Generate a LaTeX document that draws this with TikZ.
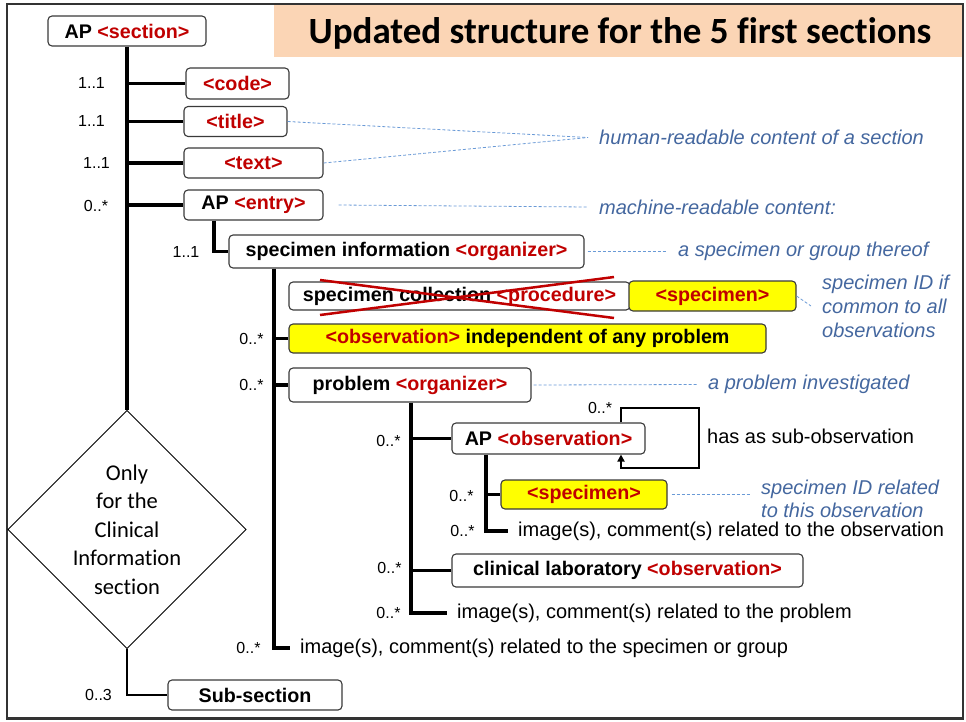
\documentclass[tikz,border=0pt]{standalone}
\usepackage{fontspec}
\setmainfont{Liberation Sans}
\newfontfamily\calibri[Ligatures=NoCommon]{Carlito}
\usetikzlibrary{shapes.geometric,arrows.meta}
\definecolor{xred}{HTML}{C00000}
\definecolor{noteblue}{HTML}{44679F}
\definecolor{dashblue}{HTML}{6A9AD6}
\definecolor{yel}{HTML}{FFFF00}
\definecolor{peach}{HTML}{FBD5B5}
\definecolor{boxgray}{HTML}{3A3A3A}
\definecolor{framegray}{HTML}{333333}
\newcommand{\rt}[1]{\textcolor{xred}{#1}}
\tikzset{
  box/.style={draw=boxgray, line width=1.1pt, rounded corners=4pt, fill=white, inner sep=0pt,
    font=\fontsize{19.7}{22}\selectfont\bfseries, align=center},
  ybox/.style={box, fill=yel},
  conn/.style={line width=3.2pt, line join=miter},
  lab/.style={font=\fontsize{16}{18}\selectfont, inner sep=0pt},
  note/.style={font=\fontsize{20}{24}\selectfont\itshape, text=noteblue, inner ysep=0pt,
    inner xsep=11pt, anchor=west, align=left},
  dsh/.style={draw=dashblue, line width=0.8pt, dash pattern=on 3pt off 2pt},
  plaintext/.style={font=\fontsize{20}{24}\selectfont, anchor=west, inner ysep=0pt, inner xsep=10pt}
}
\begin{document}
\begin{tikzpicture}[x=1pt,y=-1pt]
\useasboundingbox (0,0) rectangle (966,721);
% frame and title
\fill[peach] (274,5.3) rectangle (961.8,56.5);
\draw[framegray, line width=2.4pt] (6.7,4.2) rectangle (962.8,718.3);
\node[font=\calibri\bfseries\fontsize{37}{40}\selectfont, anchor=base, inner sep=0pt] (ttl) at (620,43.5) {Updated structure for the 5 first sections};

% boxes
\node[box, minimum width=158, minimum height=30] (sec) at (127,31) {AP \rt{<section>}};
\node[box, minimum width=103, minimum height=31] (code) at (237.5,83.5) {\rt{<code>}};
\node[box, minimum width=103, minimum height=30] (title) at (235.5,121.5) {\rt{<title>}};
\node[box, minimum width=139, minimum height=30] (text) at (253.5,163) {\rt{<text>}};
\node[box, minimum width=139, minimum height=30] (entry) at (253.5,205) {AP \rt{<entry>}};
\node[box, minimum width=355, minimum height=33] (specinfo) at (406.5,251.5) {specimen information \rt{<organizer>}};
\node[box, minimum width=341, minimum height=28] (speccoll) at (459.5,296) {specimen collection \rt{<procedure>}};
\draw[xred, line width=2.5pt] (320,280) -- (614,318);
\draw[xred, line width=2.5pt] (320,315) -- (614,277);
\node[ybox, minimum width=167, minimum height=30] (specimen1) at (712.5,296) {\rt{<specimen>}};
\node[ybox, minimum width=477, minimum height=29] (obsind) at (527.5,338.5) {\rt{<observation>} independent of any problem};
\node[box, minimum width=242, minimum height=34] (problem) at (410,385) {problem \rt{<organizer>}};
\node[box, minimum width=193, minimum height=31] (apobs) at (548.5,438.5) {AP \rt{<observation>}};
\node[ybox, minimum width=166, minimum height=29] (specimen2) at (584,494.5) {\rt{<specimen>}};
\node[box, minimum width=351, minimum height=33] (clinlab) at (627.5,570.5) {clinical laboratory \rt{<observation>}};
\node[box, minimum width=174, minimum height=30] (subsec) at (255,695) {Sub-section};

\node[draw=black, diamond, line width=0.9pt, minimum width=236, minimum height=225, inner sep=0pt,
  align=center, font=\calibri\fontsize{22.5}{28.5}\selectfont] (dia) at (127,529.5)
  {Only\\for the\\Clinical\\Information\\section};

% plain texts
\node[plaintext] (imgA) at (508,531) {image(s), comment(s) related to the observation};
\node[plaintext] (imgP) at (447,613) {image(s), comment(s) related to the problem};
\node[plaintext] (imgS) at (290,648) {image(s), comment(s) related to the specimen or group};
\node[plaintext, inner xsep=0pt] (hasas) at (707,436) {has as sub-observation};

% notes
\node[note] (hum) at (588,137.5) {human-readable content of a section};
\node[note] (mach) at (588,207) {machine-readable content:};
\node[note, inner xsep=12pt] (grp) at (666,251.5) {a specimen or group thereof};
\node[note] (sid) at (811,306) {specimen ID if\\common to all\\observations};
\node[note] (prb) at (697,384.5) {a problem investigated};
\node[note, font=\fontsize{20}{23}\selectfont\itshape] (sid2) at (750,498.5) {specimen ID related\\to this observation};

% cardinality labels
\node[lab] (c1) at (91.5,83) {1..1};
\node[lab] (c2) at (91.5,121) {1..1};
\node[lab] (c3) at (96.5,163) {1..1};
\node[lab] (c4) at (96,206) {0..*};
\node[lab] (c5) at (186,252) {1..1};
\node[lab] (c6) at (251.5,339) {0..*};
\node[lab] (c7) at (251.5,385) {0..*};
\node[lab] (c8) at (600,408) {0..*};
\node[lab] (c9) at (388.5,441) {0..*};
\node[lab] (c10) at (461.5,496) {0..*};
\node[lab] (c11) at (462.5,531) {0..*};
\node[lab] (c12) at (389.5,568) {0..*};
\node[lab] (c13) at (388.5,613) {0..*};
\node[lab] (c14) at (248.5,648) {0..*};
\node[lab] (c15) at (98.5,695) {0..3};

% connectors
\coordinate (tEx) at (214,0);
\coordinate (tSx) at (274,0);
\coordinate (tPx) at (411,0);
\coordinate (tAx) at (486,0);
\coordinate (lx) at (621,0);
\coordinate (lp1) at (699,408);
\coordinate (lp2) at (621,468);

\draw[conn] (sec.south) -- (dia.north);
\draw[conn] (sec.south |- code.west) -- (code.west);
\draw[conn] (sec.south |- title.west) -- (title.west);
\draw[conn] (sec.south |- text.west) -- (text.west);
\draw[conn] (sec.south |- entry.west) -- (entry.west);
\draw[conn] (entry.south -| tEx) |- (specinfo.west);
\draw[conn] (specinfo.south -| tSx) |- (imgS.west);
\draw[conn] (obsind.west -| tSx) -- (obsind.west);
\draw[conn] (problem.west -| tSx) -- (problem.west);
\draw[conn] (problem.south -| tPx) |- (imgP.west);
\draw[conn] (apobs.west -| tPx) -- (apobs.west);
\draw[conn] (clinlab.west -| tPx) -- (clinlab.west);
\draw[conn] (apobs.south -| tAx) |- (imgA.west);
\draw[conn] (specimen2.west -| tAx) -- (specimen2.west);
\draw[line width=2.8pt, line join=miter] (dia.south) |- (subsec.west);
\draw[line width=2.8pt, line join=miter, -{Triangle[length=7pt,width=7pt]}]
  (apobs.north -| lx) |- (lp1) |- (lp2) -- (apobs.south -| lx);

% dashed annotation connectors
\draw[dsh] (title.east) -- (hum.west);
\draw[dsh] (text.east) -- (hum.west);
\draw[dsh] ([xshift=15pt]entry.east) -- (mach.west);
\draw[dsh] ([xshift=3pt]specinfo.east) -- (grp.west);
\draw[dsh] (specimen1.east) -- (sid.west);
\draw[dsh] ([xshift=2pt]problem.east) -- (prb.west);
\draw[dsh] ([xshift=4pt]specimen2.east) -- (sid2.west |- specimen2.east);
\end{tikzpicture}
\end{document}
